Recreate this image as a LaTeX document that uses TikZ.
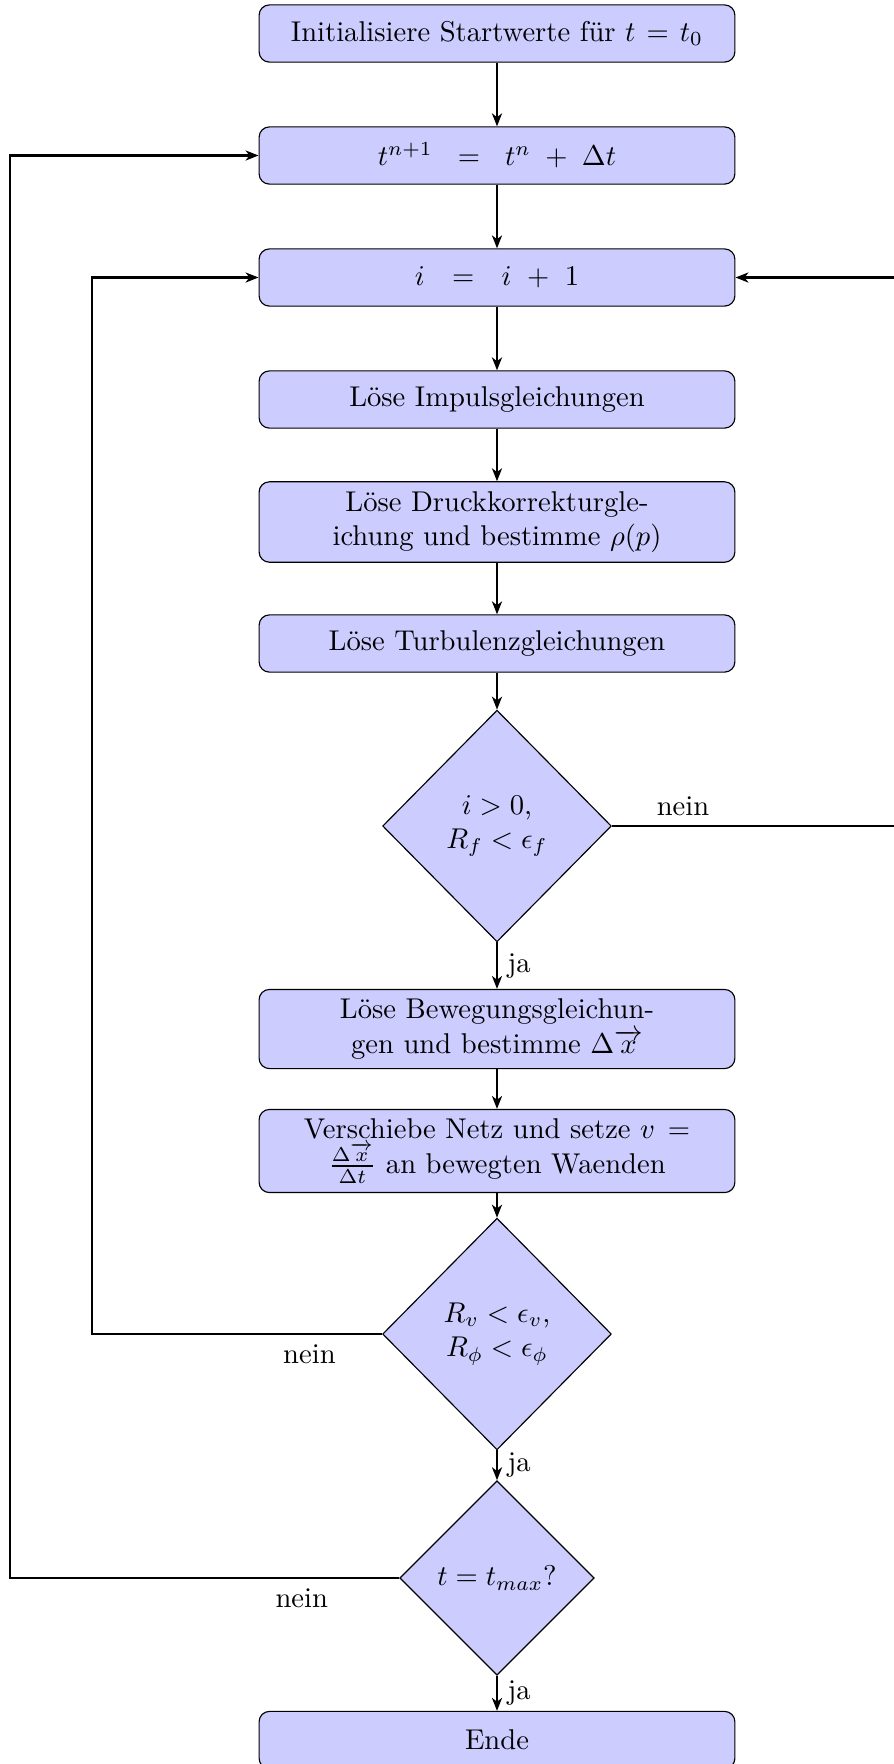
\documentclass[tikz,border=0pt]{standalone}
\usepackage{amsmath}
\usepackage{fontspec}
\usetikzlibrary{shapes.geometric,arrows.meta}
\begin{document}
\begin{tikzpicture}[x=0.34965pt,y=-0.34965pt,
  box/.style={draw, rounded corners=3.6pt, fill=blue!20, text width=159.7pt, minimum height=20pt, align=center, inner sep=3.333pt},
  dec/.style={draw, shape=diamond, fill=blue!20, align=center, inner sep=0pt},
  conn/.style={line width=0.8pt, -{Stealth[length=4.5pt,width=3.5pt,inset=1.3pt]}},
  lbl/.style={inner sep=3.333pt}]
\useasboundingbox (0,0) rectangle (894,1764);
\node[box] (b1) at (497,33.5) {Initialisiere Startwerte für $t = t_0$};
\node[box] (b2) at (497,155.5) {\mbox{$t^{n+1}\kern6pt=\kern6pt t^n\kern2.8pt+\kern2.8pt\Delta t$}};
\node[box] (b3) at (497,277.5) {\mbox{$i\kern6.8pt=\kern6.8pt i\kern3.2pt+\kern3.2pt1$}};
\node[box] (b4) at (497,399.5) {Löse Impulsgleichungen};
\node[box] (b5) at (497,522) {Löse Druckkorrekturgle-\\ichung und bestimme $\rho(p)$};
\node[box] (b6) at (497,643.5) {Löse Turbulenzgleichungen};
\node[dec, minimum width=80pt, minimum height=81pt] (d1) at (497,826) {$i > 0$,\\$R_f < \epsilon_f$};
\node[box] (b7) at (497,1029) {Löse Bewegungsgleichun-\\gen und bestimme $\Delta\overrightarrow{x}$};
\node[box] (b8) at (497,1151) {Verschiebe Netz und setze $v =$\\$\smash[t]{\frac{\Delta\overrightarrow{x}}{\Delta t}}$ an bewegten Waenden};
\node[dec, minimum width=80pt, minimum height=81pt] (d2) at (497,1334) {$R_v < \epsilon_v$,\\$R_\phi < \epsilon_\phi$};
\node[dec, minimum width=68pt, minimum height=68pt] (d3) at (497,1578) {$t = t_{max}$?};
\node[box] (b9) at (497,1740) {Ende};

\coordinate (rx) at (896,0);
\coordinate (lx1) at (91.7,0);
\coordinate (lx2) at (9.7,0);

\draw[conn] (b1) -- (b2);
\draw[conn] (b2) -- (b3);
\draw[conn] (b3) -- (b4);
\draw[conn] (b4) -- (b5);
\draw[conn] (b5) -- (b6);
\draw[conn] (b6) -- (d1);
\draw[conn] (d1) -- node[right, lbl] {ja} (b7);
\draw[conn] (b7) -- (b8);
\draw[conn] (b8) -- (d2);
\draw[conn] (d2) -- node[right, lbl] {ja} (d3);
\draw[conn] (d3) -- node[right, lbl] {ja} (b9);

\draw[conn] (d1.east) -- node[above, lbl, pos=0.25] {nein} (d1.east -| rx) |- (b3.east);
\draw[conn] (d2.west) -- node[below, lbl, pos=0.25] {nein} (d2.west -| lx1) |- (b3.west);
\draw[conn] (d3.west) -- node[below, lbl, pos=0.25] {nein} (d3.west -| lx2) |- (b2.west);
\end{tikzpicture}
\end{document}
